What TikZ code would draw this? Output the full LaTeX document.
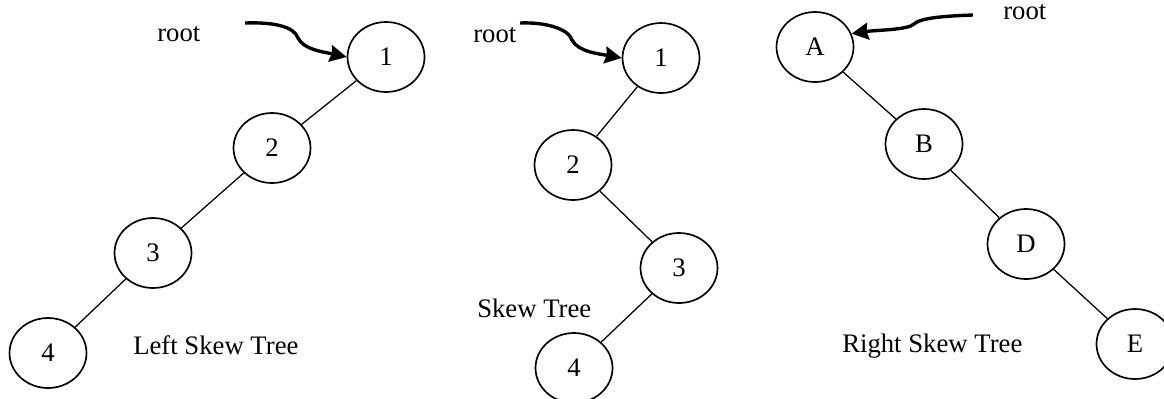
\documentclass[tikz,border=0pt]{standalone}
\usepackage{fontspec}
\setmainfont{Liberation Serif}
\usepackage{tikz}
\usetikzlibrary{shapes.geometric, arrows, arrows.meta}
\tikzstyle{vert} = [ellipse, minimum width=1.925cm, minimum height=1.75cm, inner sep=0pt, text centered, draw=black, line width=1.2pt]
\tikzstyle{edge} = [line width=0.9pt]
\tikzstyle{arrow} = [line width=2.4pt,->,>={Stealth[length=0.42cm,width=0.42cm,inset=0.04cm]}]
\tikzstyle{caption} = [anchor=base west, inner sep=0pt]

\begin{document}
\begin{tikzpicture}[node distance=2.5cm, font=\fontsize{19}{23}\selectfont]
\useasboundingbox (0,0) rectangle (29.1,-9.95);

% left skew tree
\node (l1) [vert] at (9.65,-1.425) {1};
\node (l2) [vert, below of=l1, xshift=-2.85cm, yshift=0.225cm] {2};
\node (l3) [vert, below of=l2, xshift=-2.975cm, yshift=-0.125cm] {3};
\node (l4) [vert, below of=l3, xshift=-2.625cm] {4};
\node (lroot) [caption] at (3.925,-1.025) {root};
\node (lcap) [caption] at (3.325,-8.85) {Left Skew Tree};
\coordinate (lst) at (6.125,-0.575);

\draw [edge] (l1) -- (l2);
\draw [edge] (l2) -- (l3);
\draw [edge] (l3) -- (l4);
\draw [arrow] (lst) .. controls (6.8,-0.55) and (7.35,-0.65) .. (7.45,-0.95)
  .. controls (7.6,-1.25) and (8.1,-1.3) .. (l1.west);

% skew tree
\node (m1) [vert] at (16.525,-1.45) {1};
\node (m2) [vert, below of=m1, xshift=-2.2cm, yshift=-0.175cm] {2};
\node (m3) [vert, below of=m2, xshift=2.65cm, yshift=-0.075cm] {3};
\node (m4) [vert, below of=m3, xshift=-2.625cm] {4};
\node (mroot) [caption] at (11.825,-1.05) {root};
\node (mcap) [caption] at (11.925,-7.925) {Skew Tree};
\coordinate (mst) at (13.0,-0.575);

\draw [edge] (m1) -- (m2);
\draw [edge] (m2) -- (m3);
\draw [edge] (m3) -- (m4);
\draw [arrow] (mst) .. controls (13.6,-0.55) and (14.2,-0.7) .. (14.3,-1.0)
  .. controls (14.45,-1.3) and (15.0,-1.35) .. (m1.west);

% right skew tree
\node (ra) [vert] at (20.375,-1.175) {A};
\node (rb) [vert, below of=ra, xshift=2.725cm, yshift=0.075cm] {B};
\node (rd) [vert, below of=rb, xshift=2.55cm] {D};
\node (re) [vert, below of=rd, xshift=2.725cm] {E};
\node (rroot) [caption] at (25.075,-0.475) {root};
\node (rcap) [caption] at (21.05,-8.8) {Right Skew Tree};
\coordinate (rst) at (24.325,-0.375);

\draw [edge] (ra) -- (rb);
\draw [edge] (rb) -- (rd);
\draw [edge] (rd) -- (re);
\draw [arrow] (rst) .. controls (23.6,-0.4) and (23.0,-0.45) .. (22.85,-0.6)
  .. controls (22.7,-0.75) and (21.9,-0.75) .. (ra.20);
\end{tikzpicture}
\end{document}
